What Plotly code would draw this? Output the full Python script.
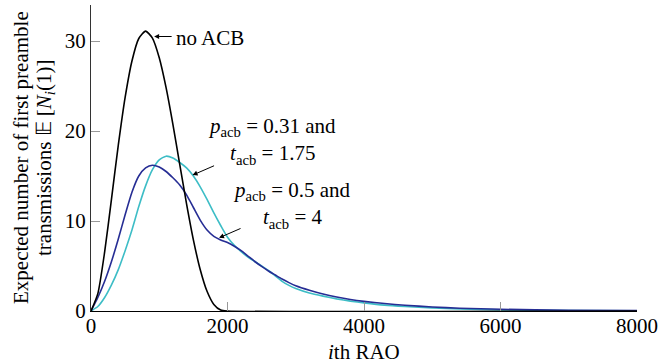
import plotly.graph_objects as go

# ---- data ----
black_x = [0, 100, 200, 300, 400, 500, 600, 700, 800, 900, 1000, 1100, 1200, 1300,
           1400, 1500, 1600, 1700, 1800, 1900, 2000, 8000]
black_y = [0, 1.93, 6.56, 12.44, 18.43, 23.73, 27.78, 30.28, 31.10, 30.32, 28.13,
           24.81, 20.74, 16.30, 11.91, 7.91, 4.61, 2.19, 0.73, 0.10, 0, 0]

blue_x = [0, 100, 200, 300, 400, 500, 600, 700, 800, 900, 1000, 1100, 1200, 1300,
          1400, 1500, 1600, 1700, 1800, 1900, 2000, 2100, 2200, 2300, 2400, 2500,
          2600, 2700, 2800, 2900, 3000, 3200, 3400, 3600, 3800, 4000, 4300, 4600,
          5000, 5400, 6000, 7000, 8000]
blue_y = [0, 1.5, 3.3, 5.5, 8.0, 10.7, 13.2, 15.0, 15.9, 16.2, 16.0, 15.5, 14.8, 14.0,
          12.9, 11.5, 10.1, 9.0, 8.3, 7.9, 7.6, 7.2, 6.7, 6.1, 5.5, 4.95,
          4.45, 4.0, 3.55, 3.15, 2.8, 2.3, 1.88, 1.55, 1.28, 1.07, 0.83, 0.64,
          0.45, 0.31, 0.19, 0.08, 0.04]

cyan_x = [0, 100, 200, 300, 400, 500, 600, 700, 800, 900, 1000, 1100, 1200, 1300,
          1400, 1500, 1600, 1700, 1800, 1900, 2000, 2100, 2200, 2300, 2400, 2500,
          2600, 2700, 2800, 2900, 3000, 3200, 3400, 3600, 3800, 4000, 4300, 4600,
          5000, 5400, 6000, 7000, 8000]
cyan_y = [0, 0.5, 1.5, 2.9, 4.6, 6.7, 9.0, 11.6, 13.9, 15.7, 16.8, 17.2, 17.0, 16.5,
          15.9, 15.0, 13.8, 12.4, 10.9, 9.5, 8.2, 7.3, 6.6, 6.0, 5.5, 5.0,
          4.5, 3.9, 3.3, 2.85, 2.5, 2.0, 1.65, 1.35, 1.1, 0.9, 0.65, 0.5,
          0.35, 0.22, 0.12, 0.05, 0.02]

x_ticks = [0, 2000, 4000, 6000, 8000]
y_ticks = [0, 10, 20, 30]

FONT = "'Liberation Serif', 'Times New Roman', Times, serif"
FS = 21

fig = go.Figure()
fig.add_trace(go.Scatter(x=cyan_x, y=cyan_y, mode="lines",
                         line=dict(color="#3dbdc6", width=1.6, shape="spline", smoothing=0.6)))
fig.add_trace(go.Scatter(x=blue_x, y=blue_y, mode="lines",
                         line=dict(color="#262d94", width=1.6, shape="spline", smoothing=0.6)))
fig.add_trace(go.Scatter(x=black_x, y=black_y, mode="lines",
                         line=dict(color="#000000", width=1.6, shape="spline", smoothing=0.6)))

tf = dict(family=FONT, size=FS, color="black")
annotations = []
# no ACB
annotations.append(dict(x=925, y=30.5, xref="x", yref="y", text="", showarrow=True,
                        ax=19, ay=0, arrowhead=2, arrowsize=1, arrowwidth=1, arrowcolor="black"))
annotations.append(dict(x=1222, y=30.3, xref="x", yref="y", text="no ACB", showarrow=False,
                        xanchor="left", yanchor="middle", font=tf))
# p=0.31
annotations.append(dict(x=2655, y=18.9, xref="x", yref="y",
                        text="<i>p</i><sub>acb</sub> = 0.31 and<br><i>t</i><sub>acb</sub> = 1.75",
                        showarrow=False, xanchor="center", yanchor="middle", align="center",
                        font=tf))
annotations.append(dict(x=1488, y=15.1, xref="x", yref="y", text="", showarrow=True,
                        ax=23, ay=-10, arrowhead=2, arrowsize=1, arrowwidth=1, arrowcolor="black"))
# p=0.5
annotations.append(dict(x=2938, y=11.8, xref="x", yref="y",
                        text="<i>p</i><sub>acb</sub> = 0.5 and<br><i>t</i><sub>acb</sub> = 4",
                        showarrow=False, xanchor="center", yanchor="middle", align="center",
                        font=tf))
annotations.append(dict(x=1876, y=8.13, xref="x", yref="y", text="", showarrow=True,
                        ax=23, ay=-10, arrowhead=2, arrowsize=1, arrowwidth=1, arrowcolor="black"))
# y title (two lines)
annotations.append(dict(x=0, y=0.5, xref="paper", yref="paper", xshift=-70,
                        text="Expected number of first preamble", textangle=-90, showarrow=False,
                        xanchor="center", yanchor="middle", font=tf))
annotations.append(dict(x=0, y=0.5, xref="paper", yref="paper", xshift=-46,
                        text="transmissions 𝔼 [<i>N<sub>i</sub></i>(1)]", textangle=-90, showarrow=False,
                        xanchor="center", yanchor="middle", font=tf))
# x title
annotations.append(dict(x=4000, y=0, xref="x", yref="paper", yshift=-41,
                        text="<i>i</i>th RAO", showarrow=False,
                        xanchor="center", yanchor="middle", font=tf))

fig.update_layout(
    width=663, height=364,
    margin=dict(l=91, r=22, t=5, b=53),
    paper_bgcolor="white", plot_bgcolor="white",
    showlegend=False,
    font=tf,
    annotations=annotations,
    xaxis=dict(range=[0, 8000], tickvals=x_ticks, ticktext=[str(v) for v in x_ticks],
               showgrid=False, zeroline=False, showline=True, linecolor="black", linewidth=1,
               ticks="inside", ticklen=9, tickcolor="#999999", tickwidth=1,
               ticklabelstandoff=-4, tickfont=tf),
    yaxis=dict(range=[0, 34], tickvals=y_ticks, ticktext=[str(v) for v in y_ticks],
               showgrid=False, zeroline=False, showline=True, linecolor="#333333", linewidth=1,
               ticks="inside", ticklen=9, tickcolor="#999999", tickwidth=1,
               tickfont=tf),
)

fig.write_html("out.html")
